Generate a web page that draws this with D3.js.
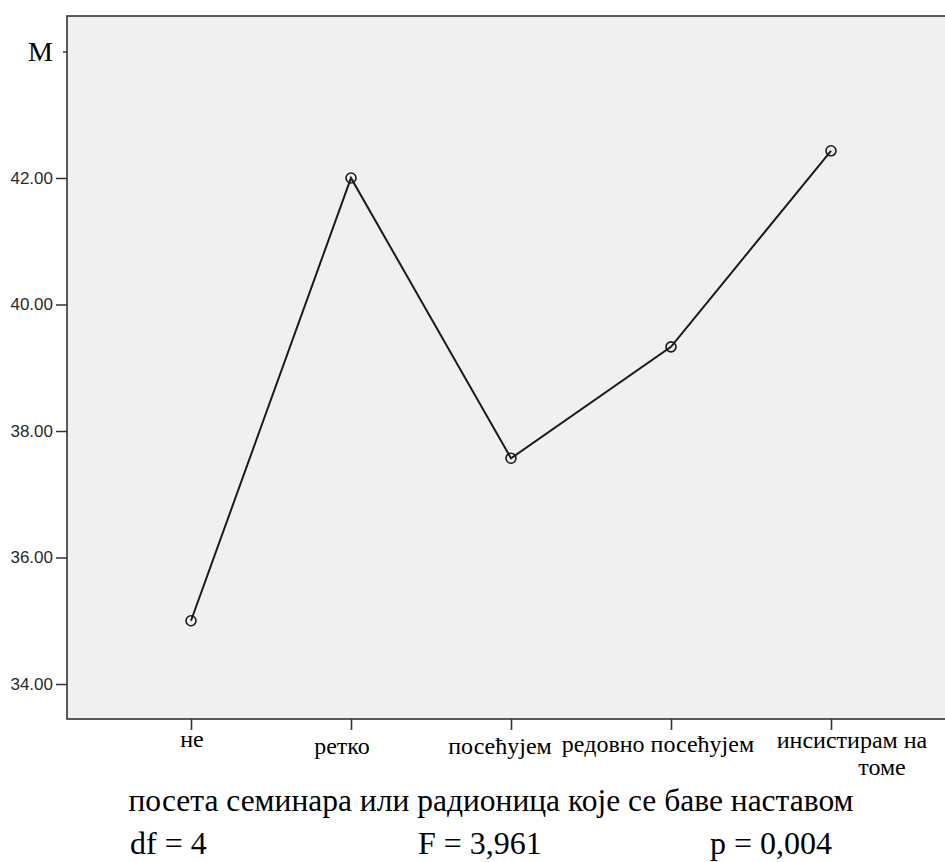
<!DOCTYPE html>
<html>
<head>
<meta charset="utf-8">
<script src="https://cdn.jsdelivr.net/npm/d3@7"></script>
<style>
  body { margin: 0; background: #fff; }
  svg { display: block; }
</style>
</head>
<body>
<div id="chart"></div>
<script>
// categories on the x axis (last one wraps onto two lines)
const categories = ["не", "ретко", "посећујем", "редовно посећујем", "инсистирам на томе"];
const categoryLines = [["не"], ["ретко"], ["посећујем"], ["редовно посећујем"], ["инсистирам на", "томе"]];
// mean per category
const means = [35.00, 42.00, 37.57, 39.33, 42.43];
// y ticks
const yTicks = [34, 36, 38, 40, 42, 44];
const yTitle = "M";
const xTitle = "посета семинара или радионица које се баве наставом";
const stats = ["df = 4", "F = 3,961", "p = 0,004"];

const W = 945, H = 862;
const plot = { left: 67, top: 16, right: 955, bottom: 719 };

const svg = d3.select("#chart").append("svg")
    .attr("width", W)
    .attr("height", H);

// y scale: 34 -> 684, 42 -> 178
const y = d3.scaleLinear()
    .domain([33.447, 44.561])
    .range([plot.bottom, plot.top]);

const x = d3.scalePoint()
    .domain(categories)
    .range([plot.left, plot.right])
    .padding(0.775);

// plot background
svg.append("rect")
    .attr("x", plot.left)
    .attr("y", plot.top)
    .attr("width", plot.right - plot.left)
    .attr("height", plot.bottom - plot.top)
    .attr("fill", "#f0f0f0")
    .attr("stroke", "#333")
    .attr("stroke-width", 1.6);

// y axis
const yAxis = svg.append("g")
    .attr("transform", `translate(${plot.left},0)`)
    .call(d3.axisLeft(y).tickValues(yTicks).tickSize(11).tickPadding(3)
        .tickFormat(d => d === 44 ? "" : d3.format(".2f")(d)));
yAxis.select(".domain").remove();
yAxis.selectAll("line")
    .attr("stroke", "#333")
    .attr("stroke-width", 1.5)
    .attr("x2", d => d === 44 ? -4 : -11);   // top tick is mostly hidden by the title
yAxis.selectAll("text")
    .attr("fill", "#2a2a2a")
    .style("font-family", "'Liberation Sans', Arial, sans-serif")
    .style("font-size", "17px");

// y title (truncated, as in the original)
svg.append("text")
    .attr("x", 53)
    .attr("y", y(44))
    .attr("dy", "0.35em")
    .attr("text-anchor", "end")
    .style("font-family", "'Liberation Serif', 'Times New Roman', serif")
    .style("font-size", "28px")
    .attr("fill", "#000")
    .text(yTitle);

// x axis
const xAxis = svg.append("g")
    .attr("transform", `translate(0,${plot.bottom})`)
    .call(d3.axisBottom(x).tickSize(11).tickFormat(""));
xAxis.select(".domain").remove();
xAxis.selectAll("line").attr("stroke", "#333").attr("stroke-width", 1.6);

// x labels; per-line offsets mimic the original's uneven placement
const labelShift = [[1, 28], [-9, 35], [-11, 35], [-13, 33], [21, 29, 51, 56]];
categoryLines.forEach((lines, i) => {
    lines.forEach((line, j) => {
        svg.append("text")
            .attr("x", x(categories[i]) + labelShift[i][j * 2])
            .attr("y", plot.bottom + labelShift[i][j * 2 + 1])
            .attr("text-anchor", "middle")
            .style("font-family", "'Liberation Serif', 'Times New Roman', serif")
            .style("font-size", "24px")
            .attr("fill", "#000")
            .text(line);
    });
});

// line + circles
const line = d3.line()
    .x((d, i) => x(categories[i]))
    .y(d => y(d));

svg.append("path")
    .datum(means)
    .attr("d", line)
    .attr("fill", "none")
    .attr("stroke", "#1a1a1a")
    .attr("stroke-width", 2);

svg.selectAll(".pt")
    .data(means)
    .enter()
    .append("circle")
    .attr("class", "pt")
    .attr("cx", (d, i) => x(categories[i]))
    .attr("cy", d => y(d))
    .attr("r", 5)
    .attr("fill", "none")
    .attr("stroke", "#1a1a1a")
    .attr("stroke-width", 1.6);

// x title
svg.append("text")
    .attr("x", 491)
    .attr("y", 811)
    .attr("text-anchor", "middle")
    .style("font-family", "'Liberation Serif', 'Times New Roman', serif")
    .style("font-size", "31.5px")
    .attr("fill", "#000")
    .text(xTitle);

// stats line
const statX = [130, 418, 710];
svg.selectAll(".stat")
    .data(stats)
    .enter()
    .append("text")
    .attr("class", "stat")
    .attr("x", (d, i) => statX[i])
    .attr("y", 854)
    .style("font-family", "'Liberation Serif', 'Times New Roman', serif")
    .style("font-size", "32px")
    .attr("fill", "#000")
    .text(d => d);
</script>
</body>
</html>
